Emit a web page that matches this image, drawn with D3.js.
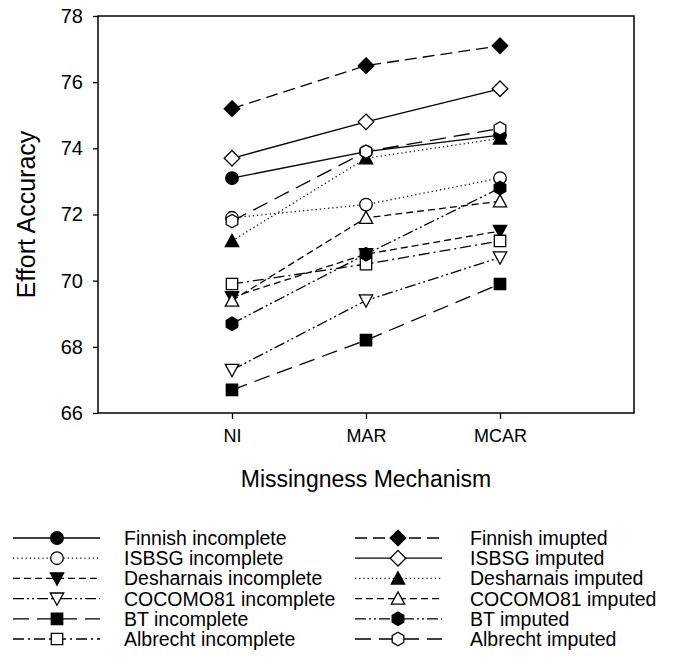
<!DOCTYPE html>
<html>
<head>
<meta charset="utf-8">
<script src="https://cdn.jsdelivr.net/npm/d3@7"></script>
<style>
  body { margin: 0; background: #fff; }
  svg { font-family: "Liberation Sans", Arial, sans-serif; }
</style>
</head>
<body>
<div id="chart"></div>
<script>
// categories on the x axis
const categories = ["NI", "MAR", "MCAR"];
const yTicks = [66, 68, 70, 72, 74, 76, 78];

// series values (NI, MAR, MCAR)
const finnishIncomplete = [73.1, 73.9, 74.4];
const isbsgIncomplete = [71.9, 72.3, 73.1];
const desharnaisIncomplete = [69.5, 70.8, 71.5];
const cocomoIncomplete = [67.3, 69.4, 70.7];
const btIncomplete = [66.7, 68.2, 69.9];
const albrechtIncomplete = [69.9, 70.5, 71.2];
const finnishImputed = [75.2, 76.5, 77.1];
const isbsgImputed = [73.7, 74.8, 75.8];
const desharnaisImputed = [71.2, 73.7, 74.3];
const cocomoImputed = [69.4, 71.9, 72.4];
const btImputed = [68.7, 70.8, 72.8];
const albrechtImputed = [71.8, 73.9, 74.6];

const seriesNames = [
  "Finnish incomplete", "ISBSG incomplete", "Desharnais incomplete",
  "COCOMO81 incomplete", "BT incomplete", "Albrecht incomplete",
  "Finnish imupted", "ISBSG imputed", "Desharnais imputed",
  "COCOMO81 imputed", "BT imputed", "Albrecht imputed"
];
const seriesValues = [
  finnishIncomplete, isbsgIncomplete, desharnaisIncomplete,
  cocomoIncomplete, btIncomplete, albrechtIncomplete,
  finnishImputed, isbsgImputed, desharnaisImputed,
  cocomoImputed, btImputed, albrechtImputed
];

// styles: dash pattern, marker shape, filled?
const dashes = {
  solid: null,
  dot: "1.2,3",
  dash: "7,4",
  longdash: "16,8",
  meddash: "12,6",
  dashdot: "11,4,2,4",
  dashdotdot: "11,3,2,3,2,3"
};
const styles = [
  { dash: dashes.solid, shape: "circle", fill: true },
  { dash: dashes.dot, shape: "circle", fill: false },
  { dash: dashes.dash, shape: "tridown", fill: true },
  { dash: dashes.dashdotdot, shape: "tridown", fill: false },
  { dash: dashes.longdash, shape: "square", fill: true },
  { dash: dashes.dashdot, shape: "square", fill: false },
  { dash: dashes.meddash, shape: "diamond", fill: true },
  { dash: dashes.solid, shape: "diamond", fill: false },
  { dash: dashes.dot, shape: "triup", fill: true },
  { dash: dashes.dash, shape: "triup", fill: false },
  { dash: dashes.dashdotdot, shape: "hexagon", fill: true },
  { dash: dashes.longdash, shape: "hexagon", fill: false }
];

const width = 673, height = 657;
const plot = { left: 98, top: 16, right: 634, bottom: 413 };

const svg = d3.select("#chart").append("svg")
  .attr("width", width)
  .attr("height", height);

const x = d3.scaleLinear().domain([0, 4]).range([plot.left, plot.right]);
const y = d3.scaleLinear().domain([66, 78]).range([plot.bottom, plot.top]);

function markerPath(shape) {
  switch (shape) {
    case "circle": return "M6.3,0A6.3,6.3 0 1,1 -6.3,0A6.3,6.3 0 1,1 6.3,0Z";
    case "square": return "M-5.7,-5.7H5.7V5.7H-5.7Z";
    case "diamond": return "M0,-7.8L7.8,0L0,7.8L-7.8,0Z";
    case "triup": return "M0,-6.7L6.7,5.6H-6.7Z";
    case "tridown": return "M0,6.7L6.7,-5.6H-6.7Z";
    case "hexagon": {
      const pts = d3.range(6).map(i => {
        const a = Math.PI / 3 * i - Math.PI / 2;
        return [6.7 * Math.cos(a), 6.7 * Math.sin(a)];
      });
      return "M" + pts.map(p => p.join(",")).join("L") + "Z";
    }
  }
}

// Axes
svg.append("g")
  .attr("transform", `translate(${plot.left},0)`)
  .call(d3.axisLeft(y).tickValues(yTicks).tickSize(5).tickPadding(10))
  .call(g => g.select(".domain").remove())
  .call(g => g.selectAll("line").attr("stroke", "#000").attr("stroke-width", 1.3))
  .call(g => g.selectAll("text").attr("font-size", 20).attr("fill", "#000")
    .attr("font-family", "Liberation Sans, Arial, sans-serif"));

svg.append("g")
  .attr("transform", `translate(0,${plot.bottom})`)
  .call(d3.axisBottom(x).tickValues([1, 2, 3]).tickFormat(d => categories[d - 1]).tickSize(6).tickPadding(10))
  .call(g => g.select(".domain").remove())
  .call(g => g.selectAll("line").attr("stroke", "#000").attr("stroke-width", 1.3))
  .call(g => g.selectAll("text").attr("font-size", 18).attr("fill", "#000")
    .attr("font-family", "Liberation Sans, Arial, sans-serif"));

// Frame
svg.append("rect")
  .attr("x", plot.left)
  .attr("y", plot.top)
  .attr("width", plot.right - plot.left)
  .attr("height", plot.bottom - plot.top)
  .attr("fill", "none")
  .attr("stroke", "#000")
  .attr("stroke-width", 1.5);

// Axis titles
svg.append("text")
  .attr("x", (plot.left + plot.right) / 2)
  .attr("y", 487)
  .attr("text-anchor", "middle")
  .attr("font-size", 23)
  .text("Missingness Mechanism");

svg.append("text")
  .attr("transform", `translate(35,${(plot.top + plot.bottom) / 2}) rotate(-90)`)
  .attr("text-anchor", "middle")
  .attr("font-size", 25)
  .text("Effort Accuracy");

// Lines and markers
const line = d3.line().x((d, i) => x(i + 1)).y(d => y(d));

const series = svg.append("g").selectAll("g")
  .data(seriesValues)
  .enter().append("g");

series.append("path")
  .attr("d", d => line(d))
  .attr("fill", "none")
  .attr("stroke", "#000")
  .attr("stroke-width", 1.3)
  .attr("stroke-dasharray", (d, i) => styles[i].dash);

series.each(function (vals, i) {
  d3.select(this).selectAll("path.pt")
    .data(vals)
    .enter().append("path")
    .attr("class", "pt")
    .attr("transform", (d, j) => `translate(${x(j + 1)},${y(d)})`)
    .attr("d", markerPath(styles[i].shape))
    .attr("fill", styles[i].fill ? "#000" : "#fff")
    .attr("stroke", "#000")
    .attr("stroke-width", 1.3);
});

// Legend
const legendCols = [
  { lineX0: 13, lineX1: 100, markX: 57, textX: 124 },
  { lineX0: 355, lineX1: 442, markX: 398, textX: 470 }
];
const legend = svg.append("g");
seriesNames.forEach((name, i) => {
  const col = legendCols[Math.floor(i / 6)];
  const row = i % 6;
  const cy = 538 + row * 20.2;
  const g = legend.append("g");
  g.append("line")
    .attr("x1", col.lineX0).attr("x2", col.lineX1)
    .attr("y1", cy).attr("y2", cy)
    .attr("stroke", "#000")
    .attr("stroke-width", 1.3)
    .attr("stroke-dasharray", styles[i].dash);
  g.append("path")
    .attr("transform", `translate(${col.markX},${cy})`)
    .attr("d", markerPath(styles[i].shape))
    .attr("fill", styles[i].fill ? "#000" : "#fff")
    .attr("stroke", "#000")
    .attr("stroke-width", 1.3);
  g.append("text")
    .attr("x", col.textX)
    .attr("y", cy + 7)
    .attr("font-size", 19.5)
    .text(name);
});
</script>
</body>
</html>
